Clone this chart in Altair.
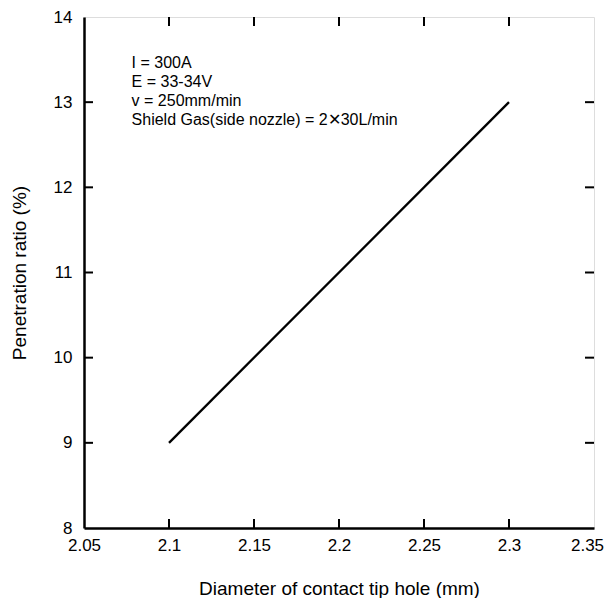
import altair as alt
import pandas as pd

# data
diameter = [2.1, 2.3]
penetration = [9, 13]
x_ticks = [2.05, 2.1, 2.15, 2.2, 2.25, 2.3, 2.35]
y_ticks = [8, 9, 10, 11, 12, 13, 14]
annotation_lines = ["I = 300A", "E = 33-34V", "v = 250mm/min",
                    "Shield Gas(side nozzle) = 2\u271530L/min"]

W, H = 510, 511
TL = 9
FONT = "Liberation Sans"

xs = alt.Scale(domain=[2.05, 2.35], nice=False, zero=False)
ys = alt.Scale(domain=[8, 14], nice=False, zero=False)

common = dict(ticks=False, grid=False, labelFontSize=17, titleFontSize=19,
              labelColor="black", titleColor="black", titleFontWeight="normal",
              domainColor="black", domainWidth=2.5, labelFont=FONT, titleFont=FONT,
              labelFlush=False, labelOverlap=False)

line_df = pd.DataFrame({"d": diameter, "p": penetration})
line = alt.Chart(line_df).mark_line(color="black", strokeWidth=2.3).encode(
    x=alt.X("d:Q", scale=xs, title="Diameter of contact tip hole (mm)",
            axis=alt.Axis(values=x_ticks, labelPadding=9, titlePadding=26, format="~g",
                          labelOffset=alt.ExprRef(expr="datum.value > 2.34 ? -7 : 0"),
                          **common)),
    y=alt.Y("p:Q", scale=ys, title="Penetration ratio (%)",
            axis=alt.Axis(values=y_ticks, labelPadding=12, titlePadding=24, format="d",
                          **common)),
)

xt_df = pd.DataFrame({"t": x_ticks[1:-1]})
yt_df = pd.DataFrame({"t": y_ticks[1:-1]})

bottom_ticks = alt.Chart(xt_df).mark_rule(color="black", strokeWidth=2).encode(
    x=alt.X("t:Q", scale=xs), y=alt.value(H), y2=alt.value(H - TL))
top_ticks = alt.Chart(xt_df).mark_rule(color="black", strokeWidth=2).encode(
    x=alt.X("t:Q", scale=xs), y=alt.value(0), y2=alt.value(TL))
left_ticks = alt.Chart(yt_df).mark_rule(color="black", strokeWidth=2).encode(
    y=alt.Y("t:Q", scale=ys), x=alt.value(0), x2=alt.value(TL))
right_ticks = alt.Chart(yt_df).mark_rule(color="black", strokeWidth=2).encode(
    y=alt.Y("t:Q", scale=ys), x=alt.value(W), x2=alt.value(W - TL))

ann_df = pd.DataFrame({"d": [2.078], "p": [13.55], "txt": ["\n".join(annotation_lines)]})
ann = alt.Chart(ann_df).mark_text(align="left", baseline="top", fontSize=16, font=FONT,
                                  lineBreak="\n", lineHeight=19, color="black").encode(
    x=alt.X("d:Q", scale=xs), y=alt.Y("p:Q", scale=ys), text="txt:N")

chart = alt.layer(line, bottom_ticks, top_ticks, left_ticks, right_ticks, ann).properties(
    width=W, height=H, padding={"left": 2, "top": 0, "right": 0, "bottom": 0}
).configure_view(stroke="black", strokeWidth=2.5).configure(background="white")

chart.save("out.html", embed_options={"renderer": "svg", "actions": False})
